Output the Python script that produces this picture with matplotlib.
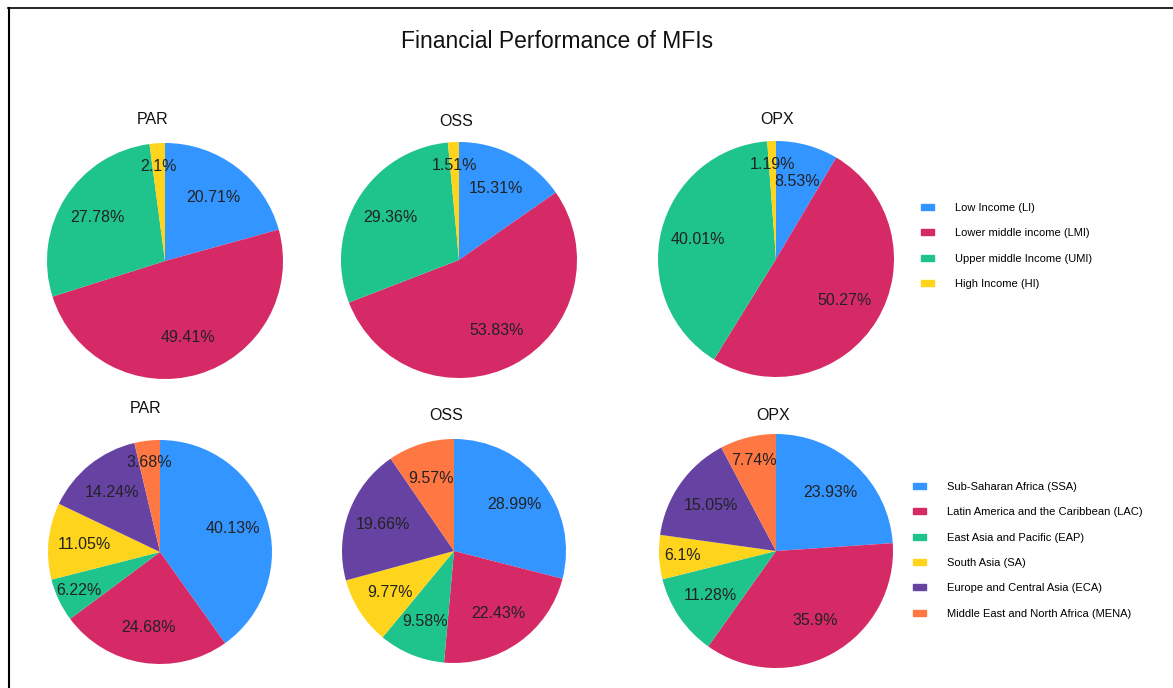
import numpy as np
import matplotlib
matplotlib.use("Agg")
import matplotlib.pyplot as plt
from matplotlib.patches import Patch
from matplotlib.lines import Line2D

plt.rcParams['font.family'] = ['Liberation Sans', 'DejaVu Sans']

# data
metrics = ["PAR", "OSS", "OPX"]

income_groups = ["Low Income (LI)", "Lower middle income (LMI)",
                 "Upper middle Income (UMI)", "High Income (HI)"]
income_par = [20.71, 49.41, 27.78, 2.1]
income_oss = [15.31, 53.83, 29.36, 1.51]
income_opx = [8.53, 50.27, 40.01, 1.19]

regions = ["Sub-Saharan Africa (SSA)", "Latin America and the Caribbean (LAC)",
           "East Asia and Pacific (EAP)", "South Asia (SA)",
           "Europe and Central Asia (ECA)", "Middle East and North Africa (MENA)"]
region_par = [40.13, 24.68, 6.22, 11.05, 14.24, 3.68]
region_oss = [28.99, 22.43, 9.58, 9.77, 19.66, 9.57]
region_opx = [23.93, 35.9, 11.28, 6.1, 15.05, 7.74]

income_colors = ["#3395FF", "#D62A67", "#1FC38C", "#FFD41C"]
region_colors = ["#3395FF", "#D62A67", "#1FC38C", "#FFD41C", "#6643A3", "#FF7743"]

W, H = 1173, 688
fig = plt.figure(figsize=(W / 100, H / 100), dpi=100)


def px_axes(cx, cy, r):
    return fig.add_axes([(cx - r) / W, 1 - (cy + r) / H, 2 * r / W, 2 * r / H])


def draw_pie(cx, cy, r, values, colors):
    ax = px_axes(cx, cy, r)
    wedges, _ = ax.pie(values, colors=colors, startangle=90, counterclock=False,
                       radius=1.0, wedgeprops=dict(linewidth=0))
    total = sum(values)
    for w, v in zip(wedges, values):
        mid = np.deg2rad((w.theta1 + w.theta2) / 2)
        # small slices get their label pushed towards the rim
        d = 0.8 if v / total < 0.085 else 0.68
        ax.text(d * np.cos(mid), d * np.sin(mid), f"{v:g}%", ha="center", va="center",
                fontsize=11.5, color="#222222")
    ax.set_xlim(-1, 1)
    ax.set_ylim(-1, 1)
    ax.set_aspect("equal")
    ax.axis("off")
    return ax


# top row - income groups
top = [(165, 261, 118), (459, 260, 118), (776, 259, 118)]
for (cx, cy, r), vals in zip(top, [income_par, income_oss, income_opx]):
    draw_pie(cx, cy, r, vals, income_colors)

# bottom row - regions
bottom = [(160, 552, 112), (454, 551, 112), (776, 551, 117)]
for (cx, cy, r), vals in zip(bottom, [region_par, region_oss, region_opx]):
    draw_pie(cx, cy, r, vals, region_colors)

# subplot titles
top_titles = [(153, 119), (456, 121), (777, 119)]
bottom_titles = [(146, 408), (446, 416), (773, 416)]
for (x, y), name in zip(top_titles + bottom_titles, metrics + metrics):
    fig.text(x / W, 1 - y / H, name, ha="center", va="center", fontsize=11.5, color="#111111")

fig.text(557 / W, 1 - 41 / H, "Financial Performance of MFIs", ha="center", va="center",
         fontsize=16.5, color="#111111")

# legends
leg_kw = dict(loc="upper left", frameon=False, fontsize=8, handlelength=1.2,
              handleheight=0.45, handletextpad=1.9, labelspacing=1.38,
              borderpad=0, borderaxespad=0)
fig.legend([Patch(color=c) for c in income_colors], income_groups,
           bbox_to_anchor=(921 / W, 1 - 203 / H), **leg_kw)
fig.legend([Patch(color=c) for c in region_colors], regions,
           bbox_to_anchor=(913 / W, 1 - 482 / H), **leg_kw)

# frame lines
fig.add_artist(Line2D([8.5 / W, 8.5 / W], [0, 1 - 8 / H], transform=fig.transFigure,
                      color="black", lw=1.5))
fig.add_artist(Line2D([8 / W, 1], [1 - 8 / H, 1 - 8 / H], transform=fig.transFigure,
                      color="black", lw=1.2))

fig.savefig("out.png", dpi=100)
